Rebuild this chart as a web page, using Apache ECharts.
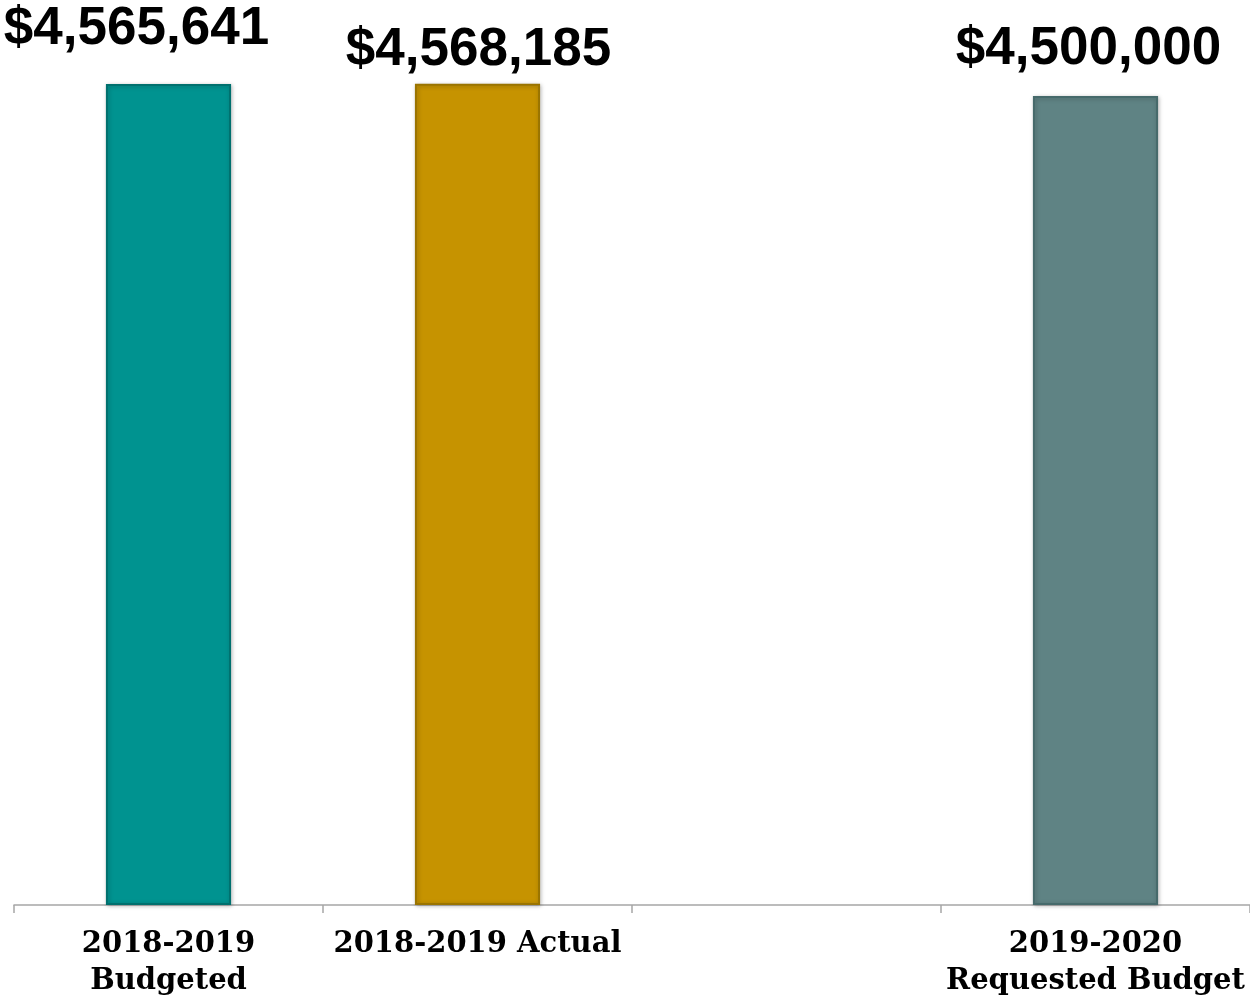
<!DOCTYPE html>
<html>
<head>
<meta charset="utf-8">
<script src="https://cdn.jsdelivr.net/npm/echarts@6/dist/echarts.min.js"></script>
<style>html,body{margin:0;padding:0;background:#fff}#c{width:1250px;height:1000px}</style>
</head>
<body>
<div id="c"></div>
<script>
const categories = ['2018-2019\nBudgeted', '2018-2019 Actual', '', '2019-2020\nRequested Budget'];
const values = [4565641, 4568185, null, 4500000];
const valueLabels = ['$4,565,641', '$4,568,185', '', '$4,500,000'];
const barColors = ['#009390', '#C69300', null, '#5F8384'];
const borderColors = ['#00706e', '#9a7400', null, '#466a6b'];
const labelOffsets = [[-32, -16], [1, 5], [0, 0], [-7, -8]];

const chart = echarts.init(document.getElementById('c'));
const data = values.map((v, i) => v == null ? null : {
  value: v,
  itemStyle: { color: barColors[i], borderColor: borderColors[i], borderWidth: 2,
    shadowColor: 'rgba(0,0,0,0.25)', shadowBlur: 4, shadowOffsetX: 1, shadowOffsetY: 1 },
  label: { offset: labelOffsets[i] }
});
chart.setOption({
  animation: false,
  grid: { left: 14, right: 0, top: 6, bottom: 93, containLabel: false },
  xAxis: {
    type: 'category', data: categories,
    axisLine: { lineStyle: { color: '#a6a6a6', width: 1.5 } },
    axisTick: { show: true, length: 8, lineStyle: { color: '#a6a6a6', width: 1.5 } },
    axisLabel: { interval: 0, margin: 21, color: '#000', fontFamily: 'DejaVu Serif', fontWeight: 'bold', fontSize: 29, lineHeight: 37 }
  },
  yAxis: { type: 'value', min: 0, max: 5000000, show: false, splitLine: { show: false } },
  series: [{
    type: 'bar', data: data, barWidth: '40.5%',
    label: {
      show: true, position: 'top', distance: 12,
      formatter: p => valueLabels[p.dataIndex],
      color: '#000', fontFamily: 'Liberation Sans', fontWeight: 'bold', fontSize: 53
    }
  }]
});
</script>
</body>
</html>
